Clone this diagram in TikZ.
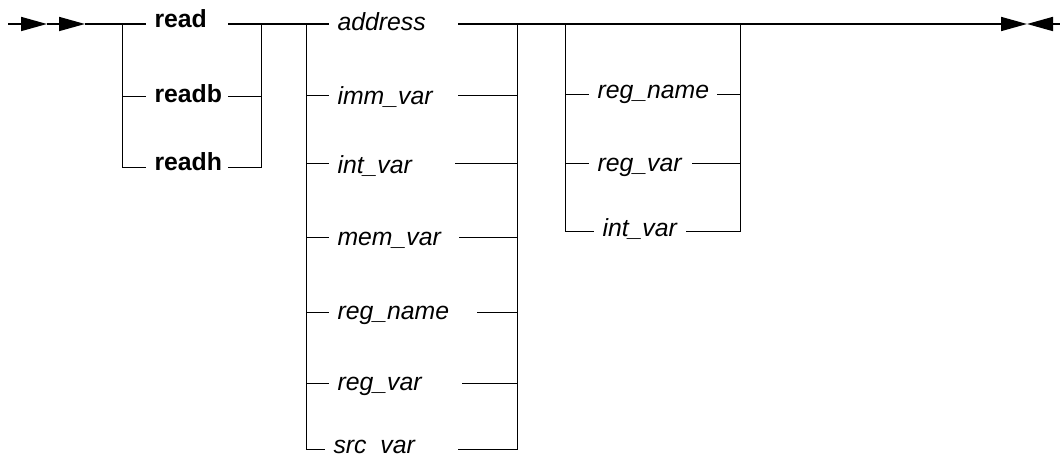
\documentclass[tikz,border=0pt]{standalone}
\usepackage{fontspec}
\setmainfont{Liberation Sans}
\usetikzlibrary{arrows.meta, positioning}
\tikzset{
  every picture/.style={line width=0.5pt},
  word/.style={anchor=base west, inner xsep=4pt, inner ysep=0pt},
  kw/.style={word, font=\fontsize{12.4}{14}\selectfont\bfseries},
  var/.style={word, font=\fontsize{12.4}{14}\selectfont\itshape},
  track/.style={line width=0.85pt},
  spur/.style={line width=0.5pt},
  tip/.style={-{Triangle[length=13pt, width=7pt]}, line width=0.85pt},
}

\begin{document}
\begin{tikzpicture}[x=0.5pt, y=-0.5pt]
  \useasboundingbox (0,0) rectangle (1060,454);
  % entry and exit of the main track
  \coordinate (in) at (8,24);
  \coordinate (a1) at (47,24);
  \coordinate (a2) at (85,24);
  \coordinate (b1) at (1027,24);
  \coordinate (out) at (1060,24);
  % opcode choice
  \foreach \w/\y/\d/\r [count=\i] in {read/24/4/228, readb/97/6/228, readh/168/3/228} {
    \node[kw] (op\i) at (146,{\y+\d}) {\w};
    \coordinate (opl\i) at (122,\y);
    \coordinate (opr\i) at (261,\y);
    \coordinate (ope\i) at (\r,\y);
  }
  % source operand choice
  \foreach \w/\y/\d/\x/\r [count=\i] in {address/24/7/329/458, imm\_var/96/9/329/458, int\_var/164/10/329/455,
      mem\_var/238/8/329/459, reg\_name/313/7/329/477, reg\_var/383/7/329/462, src\_var/449/4/325/458} {
    \node[var] (src\i) at (\x,{\y+\d}) {\w};
    \coordinate (srl\i) at (306,\y);
    \coordinate (srr\i) at (517,\y);
    \coordinate (sre\i) at (\r,\y);
  }
  % optional register operand
  \coordinate (rgl0) at (565,24);
  \coordinate (rgr0) at (740,24);
  \foreach \w/\y/\d/\x/\r [count=\i] in {reg\_name/95/4/589/717, reg\_var/164/8/589/692, int\_var/232/5/594/686} {
    \node[var] (rg\i) at (\x,{\y+\d}) {\w};
    \coordinate (rgl\i) at (565,\y);
    \coordinate (rgr\i) at (740,\y);
    \coordinate (rge\i) at (\r,\y);
  }

  % main track
  \draw[tip] (in) -- (a1);
  \draw[tip] (a1) -- (a2);
  \draw[track] (a2) -- (opl1 -| op1.west);
  \draw[track] (ope1) -- (srl1 -| src1.west);
  \draw[tip] (sre1) -- (b1);
  \draw[tip] (out) -- (b1);

  % opcode branches
  \foreach \i in {2} {
    \draw[spur] (opl\i) -- (opl\i -| op\i.west);
    \draw[spur] (ope\i) -- (opr\i);
  }
  \draw[spur] (opl1) -- (opl3) -- (opl3 -| op3.west);
  \draw[spur] (opr1) -- (opr3) -- (ope3);

  % source branches
  \foreach \i in {2,...,6} {
    \draw[spur] (srl\i) -- (srl\i -| src\i.west);
    \draw[spur] (sre\i) -- (srr\i);
  }
  \draw[spur] (srl1) -- (srl7) -- (srl7 -| src7.west);
  \draw[spur] (srr1) -- (srr7) -- (sre7);

  % register branches
  \foreach \i in {1,2} {
    \draw[spur] (rgl\i) -- (rgl\i -| rg\i.west);
    \draw[spur] (rge\i) -- (rgr\i);
  }
  \draw[spur] (rgl0) -- (rgl3) -- (rgl3 -| rg3.west);
  \draw[spur] (rgr0) -- (rgr3) -- (rge3);
\end{tikzpicture}
\end{document}
